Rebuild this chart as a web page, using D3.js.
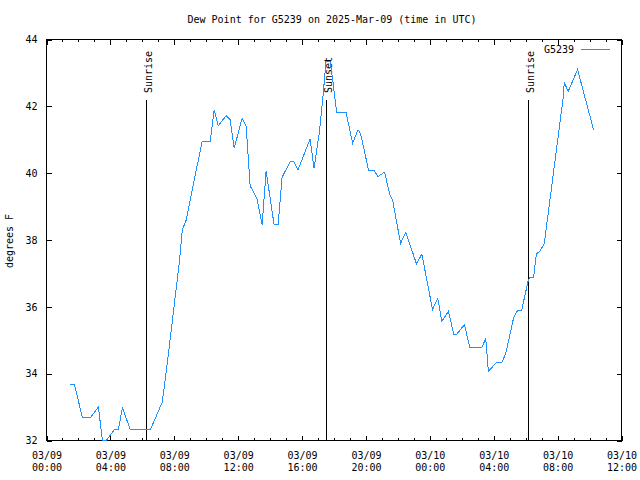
<!DOCTYPE html><html>
<head>
    <meta charset="utf-8">
    <style>
        body { margin: 0; background: #fff; }
        text { font-family: "DejaVu Sans Mono", "Liberation Mono", monospace; font-size: 10px; fill: #000; }
        line, rect, path { shape-rendering: crispEdges; }
    </style>
</head>
<body>
    <script src="https://cdn.jsdelivr.net/npm/d3@7"></script>
    <script>
        var title = "Dew Point for G5239 on 2025-Mar-09 (time in UTC)";
        var yLabel = "degrees F";
        var station = "G5239";

        // observation times (UTC) and dew point values
        var times = [
            "2025-03-09 01:30", "2025-03-09 01:45", "2025-03-09 02:15", "2025-03-09 02:45",
            "2025-03-09 03:15", "2025-03-09 03:30", "2025-03-09 03:45", "2025-03-09 04:15",
            "2025-03-09 04:30", "2025-03-09 04:45", "2025-03-09 05:15", "2025-03-09 06:30",
            "2025-03-09 07:15", "2025-03-09 07:35", "2025-03-09 08:20", "2025-03-09 08:30",
            "2025-03-09 08:45", "2025-03-09 09:15", "2025-03-09 09:45", "2025-03-09 10:15",
            "2025-03-09 10:30", "2025-03-09 10:45", "2025-03-09 11:15", "2025-03-09 11:30",
            "2025-03-09 11:45", "2025-03-09 12:15", "2025-03-09 12:30", "2025-03-09 12:45",
            "2025-03-09 13:10", "2025-03-09 13:30", "2025-03-09 13:45", "2025-03-09 14:15",
            "2025-03-09 14:30", "2025-03-09 14:45", "2025-03-09 15:15", "2025-03-09 15:30",
            "2025-03-09 15:45", "2025-03-09 16:30", "2025-03-09 16:45", "2025-03-09 17:05",
            "2025-03-09 17:20", "2025-03-09 17:30", "2025-03-09 17:45", "2025-03-09 17:55",
            "2025-03-09 18:10", "2025-03-09 18:45", "2025-03-09 19:10", "2025-03-09 19:30",
            "2025-03-09 19:40", "2025-03-09 20:10", "2025-03-09 20:30", "2025-03-09 20:45",
            "2025-03-09 21:10", "2025-03-09 21:30", "2025-03-09 21:40", "2025-03-09 22:10",
            "2025-03-09 22:30", "2025-03-09 23:10", "2025-03-09 23:30", "2025-03-10 00:10",
            "2025-03-10 00:30", "2025-03-10 00:45", "2025-03-10 01:10", "2025-03-10 01:30",
            "2025-03-10 01:40", "2025-03-10 02:10", "2025-03-10 02:30", "2025-03-10 03:15",
            "2025-03-10 03:30", "2025-03-10 03:40", "2025-03-10 04:10", "2025-03-10 04:30",
            "2025-03-10 04:45", "2025-03-10 05:15", "2025-03-10 05:30", "2025-03-10 05:45",
            "2025-03-10 06:10", "2025-03-10 06:15", "2025-03-10 06:30", "2025-03-10 06:40",
            "2025-03-10 06:55", "2025-03-10 07:10", "2025-03-10 08:20", "2025-03-10 08:25",
            "2025-03-10 08:40", "2025-03-10 09:15", "2025-03-10 10:15"
        ];
        var dewPoint = [
            33.68, 33.68, 32.68, 32.68,
            33.0, 32.0, 32.0, 32.32,
            32.32, 32.98, 32.32, 32.32,
            33.15, 34.4, 37.4, 38.3,
            38.6, 39.8, 40.95, 40.95,
            41.9, 41.42, 41.72, 41.6,
            40.75, 41.65, 41.4, 39.62,
            39.25, 38.45, 40.07, 38.45,
            38.45, 39.88, 40.34, 40.34,
            40.1, 41.02, 40.15, 41.22,
            42.42, 43.35, 43.35, 42.8,
            41.82, 41.82, 40.9, 41.3,
            41.18, 40.08, 40.08, 39.9,
            40.03, 39.35, 39.2, 37.9,
            38.23, 37.28, 37.58, 35.92,
            36.25, 35.57, 35.87, 35.17,
            35.17, 35.47, 34.78, 34.78,
            35.05, 34.07, 34.33, 34.33,
            34.6, 35.68, 35.9, 35.9,
            36.8, 36.88, 36.88, 37.58,
            37.68, 37.9, 42.2, 42.7,
            42.45, 43.1, 41.3
        ];

        var sunEvents = ["Sunrise", "Sunset", "Sunrise"];
        var sunTimes = ["2025-03-09 06:15", "2025-03-09 17:30", "2025-03-10 06:07"];

        var xDomain = ["2025-03-09 00:00", "2025-03-10 12:00"];
        var yTicks = [32, 34, 36, 38, 40, 42, 44];

        var parse = d3.utcParse("%Y-%m-%d %H:%M");
        var data = times.map(function (t, i) { return { t: parse(t), v: dewPoint[i] }; });

        var width = 640, height = 480;
        var padL = 46.5, padR = 621.5, padT = 39.5, padB = 440.5;

        var svg = d3.select("body").append("svg")
            .attr("width", width)
            .attr("height", height);

        var x = d3.scaleUtc().domain(xDomain.map(parse)).range([padL, padR]);
        var y = d3.scaleLinear().domain([32, 44]).range([padB, padT]);

        var fmtDate = d3.utcFormat("%m/%d"), fmtTime = d3.utcFormat("%H:%M");
        var major = d3.utcHour.every(4).range(x.domain()[0], d3.utcHour.offset(x.domain()[1], 1));
        var minor = d3.utcHour.every(1).range(x.domain()[0], d3.utcHour.offset(x.domain()[1], 1));

        // minor ticks top and bottom
        svg.append("g").selectAll("line").data(minor).enter().append("line")
            .attr("x1", function (d) { return Math.round(x(d)) + 0.5; })
            .attr("x2", function (d) { return Math.round(x(d)) + 0.5; })
            .attr("y1", padB).attr("y2", padB - 2.5)
            .attr("stroke", "#000");
        svg.append("g").selectAll("line").data(minor).enter().append("line")
            .attr("x1", function (d) { return Math.round(x(d)) + 0.5; })
            .attr("x2", function (d) { return Math.round(x(d)) + 0.5; })
            .attr("y1", padT).attr("y2", padT + 2.5)
            .attr("stroke", "#000");

        // bottom axis with two line labels
        var xAxis = svg.append("g")
            .attr("transform", "translate(0," + padB + ")")
            .call(d3.axisBottom(x).tickValues(major).tickSize(-5).tickSizeOuter(0).tickFormat(""));
        xAxis.select(".domain").remove();
        xAxis.selectAll(".tick line").attr("stroke", "#000");
        xAxis.selectAll(".tick").append("text")
            .attr("text-anchor", "middle")
            .selectAll("tspan")
            .data(function (d) { return [fmtDate(d), fmtTime(d)]; })
            .enter().append("tspan")
            .attr("x", 0)
            .attr("y", function (d, i) { return 18 + i * 12.5; })
            .text(function (d) { return d; });

        svg.append("g")
            .attr("transform", "translate(0," + padT + ")")
            .call(d3.axisTop(x).tickValues(major).tickSize(-5).tickSizeOuter(0).tickFormat(""))
            .call(function (g) { g.select(".domain").remove(); g.selectAll("line").attr("stroke", "#000"); });

        // y axes
        var yAxis = svg.append("g")
            .attr("transform", "translate(" + padL + ",0)")
            .call(d3.axisLeft(y).tickValues(yTicks).tickSize(-5).tickSizeOuter(0).tickPadding(9));
        yAxis.select(".domain").remove();
        yAxis.selectAll(".tick line").attr("stroke", "#000");
        yAxis.attr("font-family", null).attr("font-size", null);
        yAxis.selectAll(".tick text").attr("fill", null);

        svg.append("g")
            .attr("transform", "translate(" + padR + ",0)")
            .call(d3.axisRight(y).tickValues(yTicks).tickSize(-5).tickSizeOuter(0).tickFormat(""))
            .call(function (g) { g.select(".domain").remove(); g.selectAll("line").attr("stroke", "#000"); });

        // border
        svg.append("rect")
            .attr("x", padL).attr("y", padT)
            .attr("width", padR - padL).attr("height", padB - padT)
            .attr("fill", "none").attr("stroke", "#000");

        // sunrise / sunset markers
        var sun = svg.append("g").selectAll("g")
            .data(sunTimes.map(function (t, i) { return { t: parse(t), name: sunEvents[i] }; }))
            .enter().append("g");
        sun.append("line")
            .attr("x1", function (d) { return Math.round(x(d.t)) + 0.5; })
            .attr("x2", function (d) { return Math.round(x(d.t)) + 0.5; })
            .attr("y1", 99.5).attr("y2", padB)
            .attr("stroke", "#000");
        sun.append("text")
            .attr("transform", function (d) { return "translate(" + (Math.round(x(d.t)) + 5.5) + ",93) rotate(-90)"; })
            .text(function (d) { return d.name; });

        // the dew point line
        var line = d3.line()
            .x(function (d) { return x(d.t); })
            .y(function (d) { return y(d.v); });
        svg.append("path")
            .datum(data)
            .attr("d", line)
            .attr("fill", "none")
            .attr("stroke", "#1e90ff")
            .attr("stroke-width", 1);

        // legend
        svg.append("text").attr("x", 574).attr("y", 53).attr("text-anchor", "end").text(station);
        svg.append("line").attr("x1", 581).attr("x2", 610).attr("y1", 49.5).attr("y2", 49.5)
            .attr("stroke", "#1e90ff");

        // title and y label
        svg.append("text").attr("x", 332).attr("y", 23).attr("text-anchor", "middle").text(title);
        svg.append("text")
            .attr("transform", "translate(13,241) rotate(-90)")
            .attr("text-anchor", "middle")
            .text(yLabel);
    </script>
</body></html>
